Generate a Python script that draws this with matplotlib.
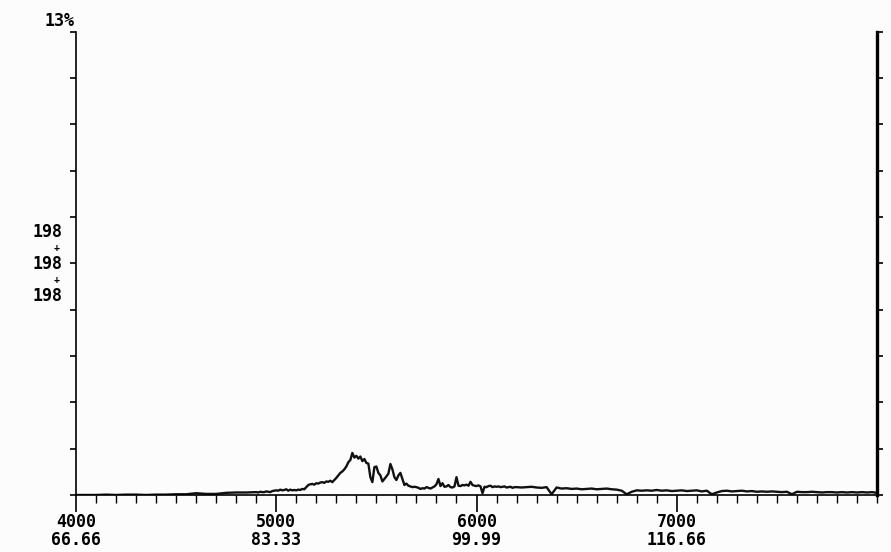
import numpy as np
import matplotlib.pyplot as plt
from matplotlib.ticker import MultipleLocator, FixedLocator

# spectrum, intensity in % of full scale (13%)
seg1_start, seg1_step = 4000, 50
seg1 = [0.0, 0.0, 0.0, 0.01, 0.0, 0.01, 0.01, 0.0, 0.01, 0.01,
        0.02, 0.02, 0.05, 0.03, 0.03, 0.06, 0.07, 0.07]

seg2_start, seg2_step = 4900, 10
seg2 = [0.08, 0.07, 0.09, 0.08, 0.08, 0.10, 0.09, 0.08, 0.11, 0.12,
        0.13, 0.12, 0.15, 0.13, 0.14, 0.16, 0.12, 0.15, 0.13, 0.14,
        0.13, 0.15, 0.14, 0.17, 0.16, 0.22, 0.28, 0.30, 0.31, 0.29,
        0.33, 0.32, 0.35, 0.36, 0.34, 0.38, 0.37, 0.40, 0.36, 0.42,
        0.48, 0.55, 0.62, 0.66, 0.72, 0.80, 0.92, 0.98, 1.18, 1.05,
        1.10, 1.02, 1.08, 0.95, 1.01, 0.90, 0.88, 0.50, 0.36, 0.78,
        0.80, 0.62, 0.55, 0.38, 0.45, 0.52, 0.60, 0.87, 0.72, 0.50,
        0.42, 0.55, 0.62, 0.45, 0.28, 0.32, 0.26, 0.24, 0.22, 0.23,
        0.22, 0.20, 0.17, 0.19, 0.18, 0.22, 0.20, 0.18, 0.21, 0.24,
        0.30, 0.45, 0.25, 0.33, 0.23, 0.24, 0.28, 0.22, 0.21, 0.24,
        0.50, 0.26, 0.25, 0.28, 0.27, 0.29, 0.26, 0.37, 0.28, 0.26,
        0.25, 0.27, 0.24, 0.05, 0.23, 0.22, 0.25, 0.26, 0.22, 0.24,
        0.23, 0.24, 0.22, 0.23, 0.24, 0.21, 0.22, 0.23, 0.20, 0.22]

seg3_start, seg3_step = 6200, 25
seg3 = [0.22, 0.21, 0.22, 0.23, 0.21, 0.20, 0.22, 0.02, 0.21, 0.18,
        0.19, 0.17, 0.18, 0.16, 0.17, 0.18, 0.16, 0.17, 0.18, 0.16,
        0.15, 0.12, 0.02, 0.09, 0.13, 0.12, 0.13, 0.12, 0.14, 0.12,
        0.13, 0.11, 0.12, 0.13, 0.11, 0.12, 0.13, 0.10, 0.12, 0.02,
        0.07, 0.11, 0.12, 0.10, 0.11, 0.12, 0.10, 0.11, 0.09, 0.10,
        0.09, 0.10, 0.09, 0.08, 0.09, 0.02, 0.09, 0.08, 0.08, 0.09,
        0.08, 0.07, 0.08, 0.08, 0.07, 0.08, 0.07, 0.08, 0.07, 0.08,
        0.07, 0.08, 0.06]

major_ticks = [4000, 5000, 6000, 7000]
major_labels = ['4000\n66.66', '5000\n83.33', '6000\n99.99', '7000\n116.66']

mass = np.concatenate([
    seg1_start + seg1_step * np.arange(len(seg1)),
    seg2_start + seg2_step * np.arange(len(seg2)),
    seg3_start + seg3_step * np.arange(len(seg3)),
])
inten = np.array(seg1 + seg2 + seg3)

mono = 'DejaVu Sans Mono'

fig = plt.figure(figsize=(8.91, 5.52), dpi=100, facecolor='#fcfcfc')
ax = fig.add_axes([0.0853, 0.1033, 0.899, 0.839])
ax.set_facecolor('#fcfcfc')

ax.plot(mass, inten, color='#111111', lw=1.7)

ax.set_xlim(4000, 8000)
ax.set_ylim(0, 13)

ax.spines['top'].set_visible(False)
ax.spines['left'].set_linewidth(1.2)
ax.spines['bottom'].set_linewidth(1.2)
ax.spines['right'].set_linewidth(2.4)

ax.xaxis.set_major_locator(FixedLocator(major_ticks))
ax.xaxis.set_minor_locator(MultipleLocator(100))
ax.set_xticklabels(major_labels, fontfamily=mono, fontweight='bold',
                   fontsize=12, linespacing=1.0)
ax.tick_params(axis='x', which='major', direction='out', length=12, width=1.2, pad=1)
ax.tick_params(axis='x', which='minor', direction='out', length=6, width=1.0)

ax.yaxis.set_major_locator(MultipleLocator(1.3))
ax.tick_params(axis='y', which='major', direction='out', length=4, width=1.2,
               left=True, right=True, labelleft=False, labelright=False)

# left side labels
ax.text(-0.002, 1.004, '13%', transform=ax.transAxes, ha='right', va='bottom',
        fontfamily=mono, fontweight='bold', fontsize=12)
for y, s in [(0.568, '198'), (0.499, '198'), (0.430, '198')]:
    ax.text(-0.017, y, s, transform=ax.transAxes, ha='right', va='center',
            fontfamily=mono, fontweight='bold', fontsize=12)
for y in [0.5335, 0.4645]:
    ax.text(-0.021, y, '+', transform=ax.transAxes, ha='right', va='center',
            fontfamily=mono, fontweight='bold', fontsize=7)

plt.savefig('out.png', dpi=100, facecolor=fig.get_facecolor())
